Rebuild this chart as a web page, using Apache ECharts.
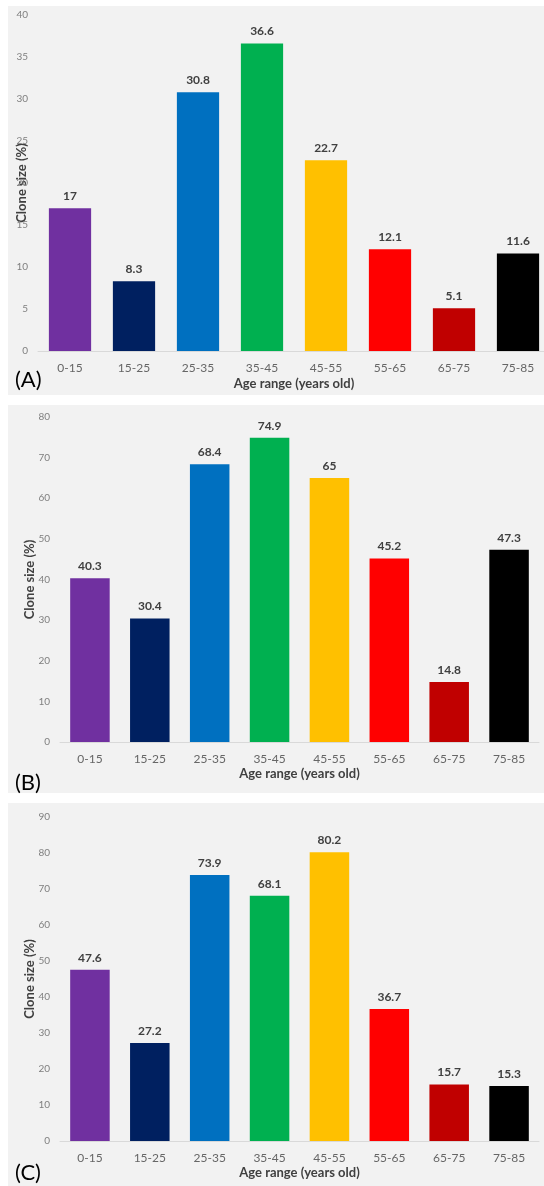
<!DOCTYPE html>
<html>
<head>
<meta charset="utf-8">
<script src="https://cdn.jsdelivr.net/npm/echarts@6/dist/echarts.min.js"></script>
<style>
html,body{margin:0;padding:0;background:#fff;overflow:hidden;width:544px;height:1186px;}
#chart{width:544px;height:1186px;}
</style>
</head>
<body>
<div id="chart"></div>
<script>
const categories = ['0-15','15-25','25-35','35-45','45-55','55-65','65-75','75-85'];
const valuesA = [17, 8.3, 30.8, 36.6, 22.7, 12.1, 5.1, 11.6];
const valuesB = [40.3, 30.4, 68.4, 74.9, 65, 45.2, 14.8, 47.3];
const valuesC = [47.6, 27.2, 73.9, 68.1, 80.2, 36.7, 15.7, 15.3];
const panelLabels = ['(A)', '(B)', '(C)'];
const xTitle = 'Age range (years old)';
const yTitle = 'Clone size (%)';
const barColors = ['#7030A0','#002060','#0070C0','#00B050','#FFC000','#FF0000','#C00000','#000000'];

const FONT = 'Lato, "Liberation Sans", sans-serif';
const chart = echarts.init(document.getElementById('chart'), null, {renderer:'canvas'});

const panels = [
  {vals: valuesA, max: 40, interval: 5, grid: {left: 38, top: 15, width: 512, height: 336}, yGap: 10, xGap: 26, bg: [8, 6, 540, 389], lab: 380},
  {vals: valuesB, max: 80, interval: 10, grid: {left: 60, top: 417, width: 479, height: 325}, yGap: 24, xGap: 25, bg: [8, 405, 540, 388], lab: 783},
  {vals: valuesC, max: 90, interval: 10, grid: {left: 60, top: 817, width: 479, height: 324}, yGap: 24, xGap: 25, bg: [8, 803, 540, 383], lab: 1173}
];

const grids = [], xAxes = [], yAxes = [], series = [], graphics = [];
panels.forEach((p, i) => {
  graphics.push({type:'rect', z:-10, shape:{x:p.bg[0], y:p.bg[1], width:p.bg[2], height:p.bg[3]}, style:{fill:'#F2F2F2'}});
  graphics.push({type:'text', z:10, x:15, y:p.lab, style:{text:panelLabels[i], font:'22px ' + FONT, fill:'#000', textVerticalAlign:'middle'}});
  grids.push(Object.assign({containLabel:false, outerBoundsMode:'none'}, p.grid));
  xAxes.push({
    type:'category', gridIndex:i, data:categories,
    axisLine:{lineStyle:{color:'#D9D9D9', width:1}},
    axisTick:{show:false},
    axisLabel:{color:'#666666', fontSize:12, fontFamily:FONT, margin:11},
    name:xTitle, nameLocation:'middle', nameGap:p.xGap, nameMoveOverlap:false,
    nameTextStyle:{color:'#404040', fontSize:13, fontFamily:FONT, fontWeight:'bold'}
  });
  yAxes.push({
    type:'value', gridIndex:i, min:0, max:p.max, interval:p.interval,
    axisLine:{show:false}, axisTick:{show:false},
    splitLine:{show:false},
    axisLabel:{color:'#7F7F7F', fontSize:10, fontFamily:FONT, margin:10},
    name:yTitle, nameLocation:'middle', nameGap:p.yGap, nameRotate:90, nameMoveOverlap:false,
    nameTextStyle:{color:'#404040', fontSize:13, fontFamily:FONT, fontWeight:'bold'}
  });
  series.push({
    type:'bar', xAxisIndex:i, yAxisIndex:i, barWidth:'66%',
    data:p.vals.map((v, k) => ({value:v, itemStyle:{color:barColors[k]}})),
    label:{show:true, position:'top', distance:6, color:'#404040', fontSize:12, fontWeight:'bold', fontFamily:FONT},
    animation:false
  });
});

chart.setOption({
  animation:false,
  backgroundColor:'#FFFFFF',
  grid:grids, xAxis:xAxes, yAxis:yAxes, series:series,
  graphic:graphics
});
</script>
</body>
</html>
